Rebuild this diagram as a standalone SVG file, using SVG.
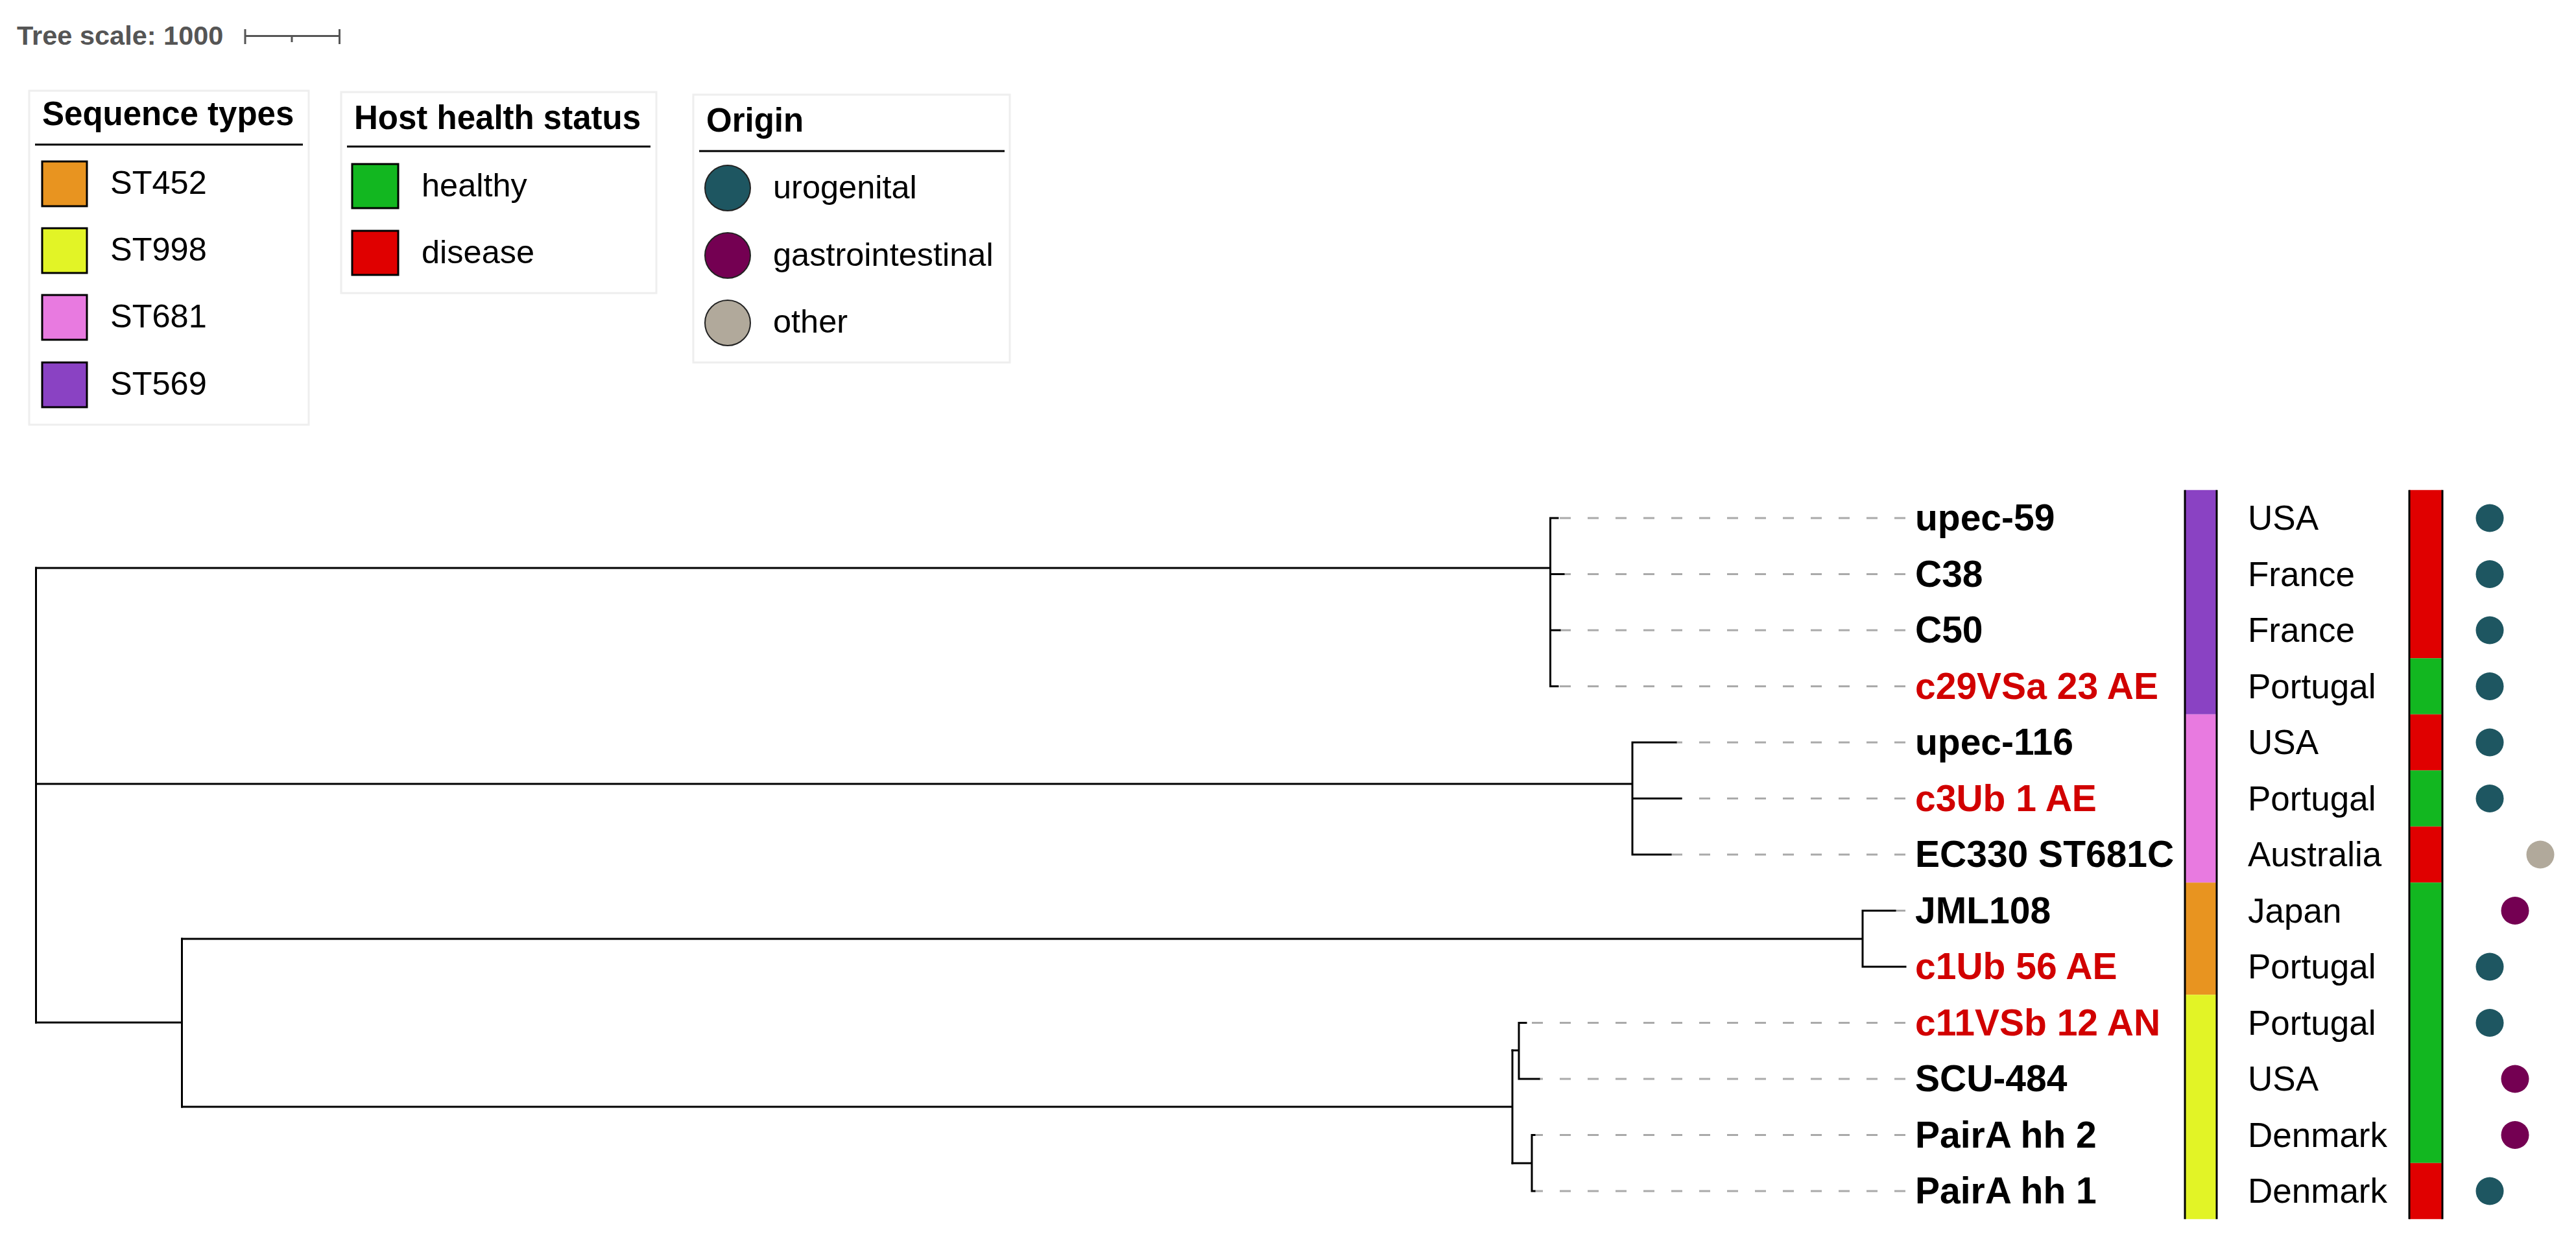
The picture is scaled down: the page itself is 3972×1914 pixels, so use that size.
<svg xmlns="http://www.w3.org/2000/svg" width="3972" height="1914" viewBox="0 0 3972 1914">
<style>
text{font-family:"Liberation Sans",Arial,sans-serif}
.lab{font-size:57px;font-weight:bold;fill:#000}
.red{fill:#d10000}
.cty{font-size:53px;fill:#000}
.ltitle{font-size:51px;font-weight:bold;fill:#000}
.litem{font-size:50.5px;fill:#000}
.lbox{fill:#fff;stroke:#eeeeee;stroke-width:3}
.uline{stroke:#000;stroke-width:3}
.sw{stroke:#000;stroke-width:3}
.br{fill:none;stroke:#000;stroke-width:3;stroke-linecap:square}
.dash{stroke:#aaaaaa;stroke-width:3;stroke-dasharray:17 26}
.edge{stroke:#000;stroke-width:3}
.uro{fill:#1e5661}
.gas{fill:#740052}
.oth{fill:#b1a99b}
</style>

<g id="tree-scale">
<text x="26" y="69" style="font-size:41.5px;font-weight:bold;fill:#555">Tree scale: 1000</text>
<path d="M378 55.5H523.5M378 45V68M523.5 45V68M450 55.5V65" fill="none" stroke="#555" stroke-width="3"/>
</g>

<g id="legend-sequence-types">
<rect class="lbox" x="45" y="140" width="431" height="515"/>
<text class="ltitle" x="65" y="193">Sequence types</text>
<line class="uline" x1="54" y1="223" x2="467" y2="223"/>
<rect class="sw" x="65" y="249" width="69" height="69" fill="#e89420"/>
<text class="litem" x="170" y="299">ST452</text>
<rect class="sw" x="65" y="352" width="69" height="69" fill="#e2f426"/>
<text class="litem" x="170" y="402">ST998</text>
<rect class="sw" x="65" y="455" width="69" height="69" fill="#e87ae0"/>
<text class="litem" x="170" y="505">ST681</text>
<rect class="sw" x="65" y="559" width="69" height="69" fill="#8a42c3"/>
<text class="litem" x="170" y="609">ST569</text>
</g>

<g id="legend-host-health">
<rect class="lbox" x="526" y="142" width="486" height="310"/>
<text class="ltitle" x="546" y="199">Host health status</text>
<line class="uline" x1="535" y1="226" x2="1003" y2="226"/>
<rect class="sw" x="543" y="253" width="71" height="68" fill="#12b720"/>
<text class="litem" x="650" y="303">healthy</text>
<rect class="sw" x="543" y="356" width="71" height="68" fill="#e00000"/>
<text class="litem" x="650" y="406">disease</text>
</g>

<g id="legend-origin">
<rect class="lbox" x="1069" y="146" width="488" height="413"/>
<text class="ltitle" x="1089" y="203">Origin</text>
<line class="uline" x1="1078" y1="233" x2="1549" y2="233"/>
<circle cx="1122" cy="290" r="35" class="uro" stroke="#222" stroke-width="2"/>
<text class="litem" x="1192" y="306">urogenital</text>
<circle cx="1122" cy="394" r="35" class="gas" stroke="#222" stroke-width="2"/>
<text class="litem" x="1192" y="410">gastrointestinal</text>
<circle cx="1122" cy="498" r="35" class="oth" stroke="#222" stroke-width="2"/>
<text class="litem" x="1192" y="513">other</text>
</g>

<g id="connectors">
<g id="leaders">
<line class="dash" x1="2938" y1="799" x2="2402" y2="799"/>
<line class="dash" x1="2938" y1="885.5" x2="2411" y2="885.5"/>
<line class="dash" x1="2938" y1="972" x2="2405" y2="972"/>
<line class="dash" x1="2938" y1="1058.5" x2="2402" y2="1058.5"/>
<line class="dash" x1="2938" y1="1145" x2="2584" y2="1145"/>
<line class="dash" x1="2938" y1="1231.5" x2="2592" y2="1231.5"/>
<line class="dash" x1="2938" y1="1318" x2="2576" y2="1318"/>
<line class="dash" x1="2938" y1="1404.5" x2="2922" y2="1404.5"/>
<line class="dash" x1="2938" y1="1577.5" x2="2353" y2="1577.5"/>
<line class="dash" x1="2938" y1="1664" x2="2373" y2="1664"/>
<line class="dash" x1="2938" y1="1750.5" x2="2366" y2="1750.5"/>
<line class="dash" x1="2938" y1="1837" x2="2366" y2="1837"/>
</g>
<g id="branches">
<path class="br" d="M55.5 876V1577"/>
<path class="br" d="M55.5 876H2390.5M2390.5 799V1058.5M2390.5 799H2402M2390.5 885.5H2411M2390.5 972H2405M2390.5 1058.5H2402"/>
<path class="br" d="M55.5 1209H2517M2517 1145V1318M2517 1145H2584M2517 1231.5H2592M2517 1318H2576"/>
<path class="br" d="M55.5 1577H280.5M280.5 1448V1707"/>
<path class="br" d="M280.5 1448H2872M2872 1404.5V1491M2872 1404.5H2922M2872 1491H2938"/>
<path class="br" d="M280.5 1707H2332M2332 1620V1794"/>
<path class="br" d="M2332 1620H2342M2342 1577.5V1664M2342 1577.5H2353M2342 1664H2373"/>
<path class="br" d="M2332 1794H2362M2362 1750.5V1837M2362 1750.5H2366M2362 1837H2366"/>
</g>
</g>

<g id="strip-sequence-type">
<rect x="3369" y="755.75" width="49" height="346" fill="#8a42c3"/>
<rect x="3369" y="1101.75" width="49" height="259.5" fill="#e87ae0"/>
<rect x="3369" y="1361.25" width="49" height="173" fill="#e89420"/>
<rect x="3369" y="1534.25" width="49" height="346" fill="#e2f426"/>
<line class="edge" x1="3369" y1="755.75" x2="3369" y2="1880.25"/>
<line class="edge" x1="3418" y1="755.75" x2="3418" y2="1880.25"/>
</g>

<g id="strip-health">
<rect x="3715" y="755.75" width="51" height="259.5" fill="#e00000"/>
<rect x="3715" y="1015.25" width="51" height="86.5" fill="#12b720"/>
<rect x="3715" y="1101.75" width="51" height="86.5" fill="#e00000"/>
<rect x="3715" y="1188.25" width="51" height="86.5" fill="#12b720"/>
<rect x="3715" y="1274.75" width="51" height="86.5" fill="#e00000"/>
<rect x="3715" y="1361.25" width="51" height="432.5" fill="#12b720"/>
<rect x="3715" y="1793.75" width="51" height="86.5" fill="#e00000"/>
<line class="edge" x1="3715" y1="755.75" x2="3715" y2="1880.25"/>
<line class="edge" x1="3766" y1="755.75" x2="3766" y2="1880.25"/>
</g>

<g id="leaf-upec-59"><text class="lab" x="2953" y="818">upec-59</text><text class="cty" x="3466" y="817">USA</text><circle class="uro" cx="3839" cy="799" r="21.5"/></g>
<g id="leaf-C38"><text class="lab" x="2953" y="904.5">C38</text><text class="cty" x="3466" y="903.5">France</text><circle class="uro" cx="3839" cy="885.5" r="21.5"/></g>
<g id="leaf-C50"><text class="lab" x="2953" y="991">C50</text><text class="cty" x="3466" y="990">France</text><circle class="uro" cx="3839" cy="972" r="21.5"/></g>
<g id="leaf-c29VSa-23-AE"><text class="lab red" x="2953" y="1077.5">c29VSa 23 AE</text><text class="cty" x="3466" y="1076.5">Portugal</text><circle class="uro" cx="3839" cy="1058.5" r="21.5"/></g>
<g id="leaf-upec-116"><text class="lab" x="2953" y="1164">upec-116</text><text class="cty" x="3466" y="1163">USA</text><circle class="uro" cx="3839" cy="1145" r="21.5"/></g>
<g id="leaf-c3Ub-1-AE"><text class="lab red" x="2953" y="1250.5">c3Ub 1 AE</text><text class="cty" x="3466" y="1249.5">Portugal</text><circle class="uro" cx="3839" cy="1231.5" r="21.5"/></g>
<g id="leaf-EC330-ST681C"><text class="lab" x="2953" y="1337">EC330 ST681C</text><text class="cty" x="3466" y="1336">Australia</text><circle class="oth" cx="3917" cy="1318" r="21.5"/></g>
<g id="leaf-JML108"><text class="lab" x="2953" y="1423.5">JML108</text><text class="cty" x="3466" y="1422.5">Japan</text><circle class="gas" cx="3878" cy="1404.5" r="21.5"/></g>
<g id="leaf-c1Ub-56-AE"><text class="lab red" x="2953" y="1510">c1Ub 56 AE</text><text class="cty" x="3466" y="1509">Portugal</text><circle class="uro" cx="3839" cy="1491" r="21.5"/></g>
<g id="leaf-c11VSb-12-AN"><text class="lab red" x="2953" y="1596.5">c11VSb 12 AN</text><text class="cty" x="3466" y="1595.5">Portugal</text><circle class="uro" cx="3839" cy="1577.5" r="21.5"/></g>
<g id="leaf-SCU-484"><text class="lab" x="2953" y="1683">SCU-484</text><text class="cty" x="3466" y="1682">USA</text><circle class="gas" cx="3878" cy="1664" r="21.5"/></g>
<g id="leaf-PairA-hh-2"><text class="lab" x="2953" y="1769.5">PairA hh 2</text><text class="cty" x="3466" y="1768.5">Denmark</text><circle class="gas" cx="3878" cy="1750.5" r="21.5"/></g>
<g id="leaf-PairA-hh-1"><text class="lab" x="2953" y="1856">PairA hh 1</text><text class="cty" x="3466" y="1855">Denmark</text><circle class="uro" cx="3839" cy="1837" r="21.5"/></g>
</svg>
